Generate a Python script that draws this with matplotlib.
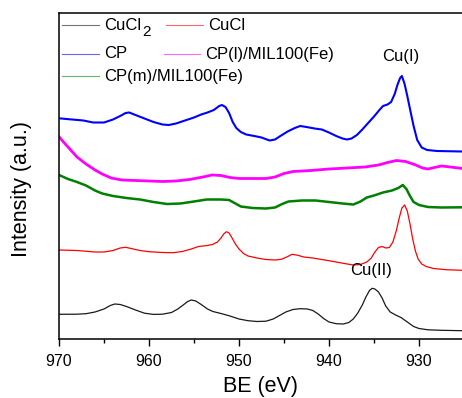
import matplotlib
matplotlib.use("Agg")
import matplotlib.pyplot as plt
from matplotlib.ticker import MultipleLocator

plt.rcParams['font.family'] = ['Liberation Sans', 'DejaVu Sans']

# binding energy (eV) and offset intensities (a.u.)
be_cucl2 = [970, 968, 967, 966, 965, 964.3, 963.8, 963.2, 962.5, 961.5, 960.5, 959.5,
            958.5, 957.5, 956.8, 956.2, 955.7, 955.3, 954.8, 954.2, 953.5, 952.9, 952,
            951, 950, 949, 948, 947, 946.2, 945.5, 944.8, 944, 943.2, 942.4, 941.8,
            941.2, 940.6, 940, 939.2, 938.4, 937.8, 937.3, 936.8, 936.3, 935.9, 935.5,
            935.2, 934.9, 934.5, 934.1, 933.7, 933.2, 932.6, 932, 931.3, 930.6, 930,
            929, 927.5, 925.2]
i_cucl2 = [24.7, 24.8, 25.3, 27, 30, 33.5, 35, 34.5, 32.5, 29, 25.8, 24.6,
           24.8, 26.5, 30, 34, 37.5, 39, 38, 34.5, 30, 27.5, 25.5,
           23, 20, 18.3, 17.5, 17.8, 20, 23.5, 27, 29.5, 30.3, 30, 28.5,
           25, 20.5, 17, 15.3, 15, 16.5, 20, 26, 34, 42, 48.5,
           50.7, 50, 47, 41, 33, 27, 24, 21.5, 17, 12.5, 10.5,
           9.2, 8.7, 8.3]

be_cucl = [970, 968, 966, 965, 964, 963.2, 962.6, 962, 961, 960, 958.5, 957.3, 956.3,
           955.3, 954.5, 953.5, 952.9, 952.4, 952, 951.7, 951.4, 951.1, 950.8, 950.4,
           950, 949.5, 949, 948, 947, 946, 945.3, 944.7, 944.1, 943.5, 942.8, 941.8,
           940.8, 939.5, 938.3, 937.3, 936.5, 935.8, 935.3, 934.9, 934.5, 934.1, 933.7,
           933.3, 932.9, 932.5, 932.2, 931.9, 931.6, 931.3, 931, 930.7, 930.4, 930.1,
           929.7, 929.2, 928.4, 927, 925.2]
i_cucl = [89, 88.5, 87, 87, 88.5, 91, 91.7, 90.5, 88.5, 87.3, 86.5, 86.3, 87.5,
          90, 92.5, 93.5, 94.7, 97, 101, 105, 107.3, 106, 101.5, 95,
          90, 85.5, 83, 81, 79.5, 79, 79.7, 82, 84.7, 83.8, 82, 81,
          79.5, 77.5, 75.5, 74, 74.5, 77, 81, 87, 91.5, 92.5, 91,
          91.5, 97, 109, 121, 131, 134, 128, 115, 100, 88, 80,
          75, 72.5, 70.5, 69.3, 68.7]

be_cp = [970, 968.8, 967.3, 966.2, 965, 964, 963.2, 962.6, 962.2, 961.5, 960.5, 959.5,
         958.5, 957.8, 957, 956, 955, 954.2, 953.5, 952.8, 952.2, 951.9, 951.5, 951.1,
         950.7, 950.3, 949.8, 949.2, 948.3, 947.5, 946.6, 946, 945.4, 944.6, 943.8,
         943.2, 942.5, 941.6, 940.8, 940, 939.2, 938.5, 938, 937.5, 936.9, 936.3,
         935.6, 935, 934.4, 934, 933.5, 933.1, 932.7, 932.4, 932.1, 931.9, 931.6,
         931.3, 931, 930.6, 930.2, 929.7, 929.1, 928, 925.2]
i_cp = [220.7, 219.7, 218.5, 216.5, 216.5, 219.5, 223, 226, 226.5, 224, 220.5, 217,
        214.5, 214, 215.5, 218.5, 221.5, 224.5, 226.5, 229, 233, 234, 232, 226,
        217, 211, 207, 204.5, 203, 201.5, 198.5, 199.5, 203, 207.5, 211,
        213, 212, 210.5, 209.5, 206.5, 203, 200.5, 199.5, 200.5, 204, 209.5,
        216.5, 222.5, 229, 233, 234.5, 237, 245, 254, 261, 263, 255,
        243, 230, 213, 199, 191.5, 189, 188, 187.5]

be_cpl = [970, 969.5, 968.8, 968, 967, 966, 965.2, 964.2, 963, 961.5, 960, 958.5, 957,
          955.5, 954, 953, 952, 951, 950, 948.5, 947, 946, 945, 944, 942, 940, 938,
          936, 934.5, 933.5, 932.5, 931.5, 930.5, 929.6, 929, 928.3, 927.5, 926.5,
          925.2]
i_cpl = [202.3, 197, 190, 182, 175, 169, 165, 161, 159, 158.5, 158, 157.5, 158,
         159.5, 162, 164, 163.5, 161.5, 160.5, 160.5, 160.5, 162, 165.5, 167.5, 168.5,
         170, 171, 172, 174, 176.5, 178.5, 177.5, 174.5, 171, 170, 171.5, 173, 172,
         170.5]

be_cpm = [970, 969, 968, 967, 966, 965.2, 964, 962.5, 961, 959.5, 958, 956.5, 955,
          953.6, 952, 951.1, 950.5, 949.8, 948.5, 947, 946, 945.2, 944.5, 943, 941.5,
          940, 938.5, 937.3, 936.5, 935.8, 935, 934, 933, 932.3, 931.8, 931.4, 931,
          930.6, 930, 929, 927.5, 925.2]
i_cpm = [164, 160, 157, 153.5, 148.5, 145.5, 143, 141, 139.5, 137, 135, 135.5, 137.5,
         139.5, 139.5, 139, 136, 132.5, 131, 130.5, 131.5, 135, 137.5, 138.5, 138.5,
         137, 135.5, 134.5, 137.5, 141.5, 143.5, 146.5, 148.5, 151, 154, 150, 143,
         137, 134, 132, 131.5, 131.7]

fig = plt.figure(figsize=(4.62, 3.98), dpi=100)
ax = fig.add_axes([59 / 462, 59 / 398, 403 / 462, 326 / 398])

ax.plot(be_cucl2, i_cucl2, color='#1a1a1a', lw=0.9)
ax.plot(be_cucl, i_cucl, color='#ff0000', lw=0.9)
ax.plot(be_cp, i_cp, color='#0000ff', lw=1.5)
ax.plot(be_cpl, i_cpl, color='#ff00ff', lw=2.0)
ax.plot(be_cpm, i_cpm, color='#008000', lw=1.8)

ax.set_xlim(970, 970 - 403 / 9)
ax.set_ylim(0, 326)
ax.xaxis.set_major_locator(MultipleLocator(10))
ax.xaxis.set_minor_locator(MultipleLocator(5))
ax.tick_params(axis='x', which='major', direction='out', length=5, width=1,
               labelsize=11.5, pad=6)
ax.tick_params(axis='x', which='minor', direction='out', length=3, width=1)
ax.set_yticks([])
ax.spines['right'].set_visible(False)
for s in ['left', 'top', 'bottom']:
    ax.spines[s].set_linewidth(1.1)

ax.set_xlabel('BE (eV)', fontsize=15.5, labelpad=5)
ax.set_ylabel('Intensity (a.u.)', fontsize=15.5)
ax.yaxis.set_label_coords(-0.066, 0.46)

ax.text(932.0, 282, 'Cu(I)', fontsize=12, ha='center', va='center')
ax.text(935.3, 68.5, 'Cu(II)', fontsize=12, ha='center', va='center')

# hand-placed legend (Origin-style), pixel positions turned into axes fractions
legend_items = [
    ('CuCl', '#1a1a1a', 62, 99, 104, 25),
    ('CuCl', '#ff0000', 166, 203, 208, 25),
    ('CP', '#0000ff', 62, 99, 104, 54),
    ('CP(l)/MIL100(Fe)', '#ff00ff', 164, 200, 205, 54),
    ('CP(m)/MIL100(Fe)', '#008000', 62, 99, 104, 76),
]
texts = []
for label, color, x0, x1, xt, yp in legend_items:
    fy = (339 - yp) / 326
    ax.plot([(x0 - 59) / 403, (x1 - 59) / 403], [fy, fy], color=color, lw=0.8,
            alpha=0.6, transform=ax.transAxes)
    texts.append(ax.text((xt - 59) / 403, fy, label, fontsize=12, va='center',
                         ha='left', transform=ax.transAxes))

# big subscript 2 of CuCl2, as drawn in the original
ax.annotate('2', xy=(1, 0), xycoords=texts[0], xytext=(0.5, -5),
            textcoords='offset points', fontsize=11, ha='left', va='bottom')

fig.savefig('out.png', dpi=100)
